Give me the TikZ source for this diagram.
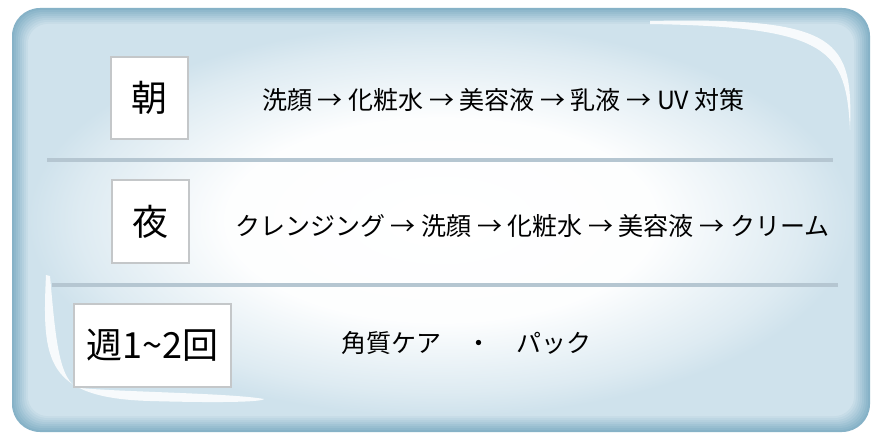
\documentclass[tikz,border=0pt]{standalone}
\usepackage{fontspec}
\setmainfont{Noto Sans CJK JP}
\usetikzlibrary{positioning}
\definecolor{paneledge}{HTML}{86B2C7}
\definecolor{paneltint}{HTML}{CFE2EC}
\definecolor{ruleblue}{HTML}{B5C6D1}
\definecolor{boxgray}{HTML}{C4C7C9}
\pgfdeclareradialshading{panelglow}{\pgfpoint{0bp}{0bp}}{color(0bp)=(white); color(13bp)=(white!96!paneltint); color(22bp)=(paneltint!70!white); color(25bp)=(paneltint); color(50bp)=(paneltint)}
\tikzset{
  timebox/.style={draw=boxgray, line width=1.5pt, fill=white, inner sep=0pt, font=\fontsize{36}{40}\selectfont},
  flow/.style={anchor=west, inner sep=0pt, font=\fontsize{25}{29}\selectfont},
  divider/.style={ruleblue, line width=4pt}
}

\begin{document}
\begin{tikzpicture}[x=1pt,y=-1pt]
\useasboundingbox (0,0) rectangle (877,438);
\fill[white] (0,0) rectangle (877,438);
% panel, soft rim then glow
\fill[paneledge, rounded corners=28pt] (12,8) rectangle (870,432);
\foreach \i in {1,...,8} {
  \pgfmathsetmacro{\mix}{\i*12.5}
  \fill[paneltint!\mix!paneledge, rounded corners=28pt-\i pt] (12+2*\i,8+2*\i) rectangle (870-2*\i,432-2*\i);
}
\shade[shading=panelglow, rounded corners=20pt] (28,24) rectangle (854,416);
% highlights
\fill[white, opacity=.85] (650,21) .. controls (840,17) and (853,40) .. (850,130)
  .. controls (846,50) and (830,27) .. (650,24) -- cycle;
\fill[white, opacity=.85] (46,275) .. controls (42,360) and (45,398) .. (150,401)
  .. controls (220,403) and (262,402) .. (264,399)
  .. controls (230,393) and (120,392) .. (80,388)
  .. controls (58,384) and (55,330) .. (50,276) -- cycle;
% dividers
\coordinate (rule1w) at (47,160);
\coordinate (rule1e) at (833,160);
\coordinate (rule2w) at (52,285);
\coordinate (rule2e) at (838,285);
\draw[divider] (rule1w) -- (rule1e);
\draw[divider] (rule2w) -- (rule2e);
% rows
\node[timebox, minimum width=77pt, minimum height=82pt] (asa) at (149.5,98) {朝};
\node[timebox, minimum width=77pt, minimum height=83pt] (yoru) at (150.5,221.5) {夜};
\node[timebox, minimum width=157pt, minimum height=83pt] (shuu) at (152.5,345.5) {週1\textasciitilde 2回};
\node[flow] (asaflow) at (262,100) {洗顔 → 化粧水 → 美容液 → 乳液 → UV 対策};
\node[flow] (yoruflow) at (235,226) {クレンジング → 洗顔 → 化粧水 → 美容液 → クリーム};
\node[flow] (shuuflow) at (341,343) {角質ケア\hspace{25pt}・\hspace{25pt}パック};
\end{tikzpicture}
\end{document}
